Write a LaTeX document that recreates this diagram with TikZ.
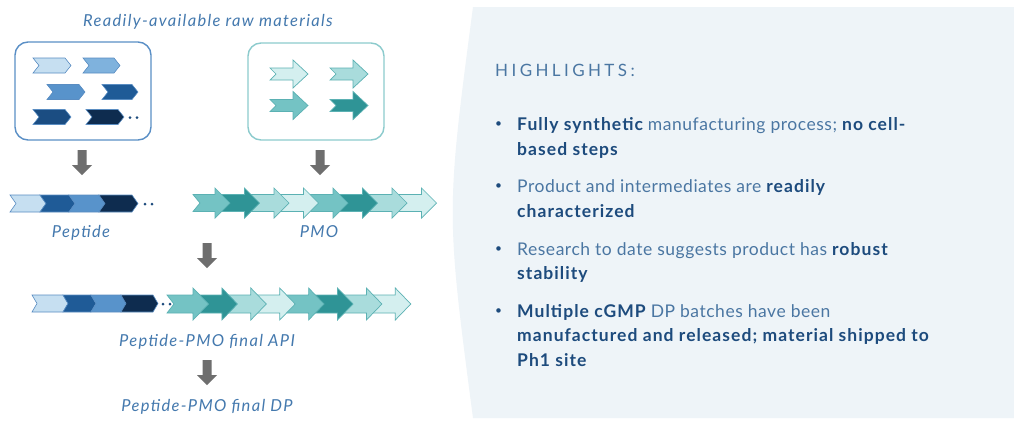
\documentclass[tikz,border=0pt]{standalone}
\usepackage{fontspec}
\setmainfont{Lato}
\definecolor{pep1}{HTML}{C6DFF1}
\definecolor{pep2}{HTML}{7FB2DD}
\definecolor{pep3}{HTML}{5893CB}
\definecolor{pep4}{HTML}{1F5B97}
\definecolor{pep5}{HTML}{1B4D82}
\definecolor{pep6}{HTML}{0E2C4F}
\definecolor{pepline}{HTML}{5A8DC2}
\definecolor{t1}{HTML}{D4EFEF}
\definecolor{t2}{HTML}{A9DCDC}
\definecolor{t3}{HTML}{74C3C4}
\definecolor{t4}{HTML}{2F9496}
\definecolor{tealline}{HTML}{5BB1B3}
\definecolor{boxblue}{HTML}{5A8FC6}
\definecolor{boxteal}{HTML}{8CCBCD}
\definecolor{garr}{HTML}{6E6E6E}
\definecolor{lbl}{HTML}{4479AE}
\definecolor{panel}{HTML}{EEF4F8}
\definecolor{txt}{HTML}{4A76A2}
\definecolor{txtb}{HTML}{1D4B7D}
\definecolor{dotc}{HTML}{1D4B7D}
\newcommand{\pchev}[4]{%
  \filldraw[fill=#4, draw=pepline, line width=0.6pt] (#1,{#3-7.5}) -- ({#2-6},{#3-7.5}) -- (#2,#3) -- ({#2-6},{#3+7.5}) -- (#1,{#3+7.5}) -- ({#1+6},#3) -- cycle;}
\newcommand{\pseg}[6]{%
  \filldraw[fill=#6, draw=pepline, line width=0.6pt] ({#1-#5},{#3-#4}) -- ({#2-#5},{#3-#4}) -- (#2,#3) -- ({#2-#5},{#3+#4}) -- ({#1-#5},{#3+#4}) -- (#1,#3) -- cycle;}
\newcommand{\parrow}[8]{%
  \filldraw[fill=#8, draw=tealline, line width=0.7pt] (#1,{#4-#6}) -- (#2,{#4-#6}) -- (#2,{#4-#5}) -- (#3,#4) -- (#2,{#4+#5}) -- (#2,{#4+#6}) -- (#1,{#4+#6}) -- ({#1+#7},#4) -- cycle;}
\newcommand{\garrow}[3]{%
  \fill[garr] ({#1-4.5},#2) -- ({#1+4.5},#2) -- ({#1+4.5},{#3-10}) -- ({#1+10},{#3-10}) -- (#1,#3) -- ({#1-10},{#3-10}) -- ({#1-4.5},{#3-10}) -- cycle;}
\newcommand{\hb}[1]{{\bfseries\addfontfeature{LetterSpace=6}\color{txtb}#1}}
\tikzset{
  lbltext/.style={text=lbl, font=\fontsize{16.5}{19}\selectfont\itshape\addfontfeature{LetterSpace=8}, inner sep=0pt, anchor=base},
  hltext/.style={text=txt, font=\fontsize{17.5}{20}\selectfont\addfontfeature{LetterSpace=3}, inner sep=0pt, anchor=base west},
  bul/.style={text=txtb, font=\fontsize{12}{14}\selectfont, inner sep=0pt, anchor=center},
  rawbox/.style={rounded corners=13pt, line width=1.4pt, fill=white},
}
\begin{document}
\begin{tikzpicture}[x=1pt,y=-1pt]
\useasboundingbox (0,0) rectangle (1014,421);
\fill[white] (0,0) rectangle (1014,421);
% right panel
\fill[panel] (473,7) .. controls (446,212.5) .. (473,418) -- (1014,418) -- (1014,7) -- cycle;
% title
\node[lbltext] (title) at (208,26.5) {Readily-available raw materials};
% raw boxes
\draw[rawbox, draw=boxblue] (15,42) rectangle (151,140);
\draw[rawbox, draw=boxteal] (248,43) rectangle (384,140);
% peptide raw chevrons
\pchev{33}{71}{65.5}{pep1}
\pchev{83}{120}{65.5}{pep2}
\pchev{47}{85}{92}{pep3}
\pchev{102}{138}{92}{pep4}
\pchev{33}{71}{117}{pep5}
\pchev{86}{124}{117}{pep6}
\fill[dotc] (130,117.5) circle (1.5) (137,117.5) circle (1.5);
% PMO raw arrows
\parrow{270}{293}{308}{74}{14}{6}{6}{t1}
\parrow{330}{353}{368}{74}{14}{6}{6}{t2}
\parrow{270}{293}{308}{105.5}{14}{6}{6}{t3}
\parrow{330}{353}{368}{105.5}{14}{6}{6}{t4}
% gray arrows
\garrow{82}{150}{175}
\garrow{320}{150}{175}
\garrow{207}{243}{268}
\garrow{207}{360}{385}
% peptide chain
\pseg{16}{46}{203.5}{8.5}{6}{pep1}
\pseg{46}{75}{203.5}{8.5}{6}{pep4}
\pseg{75}{105}{203.5}{8.5}{6}{pep3}
\pseg{105}{138}{203.5}{8.5}{6}{pep6}
\fill[dotc] (145,204) circle (1.5) (152,204) circle (1.5);
% PMO chain
\foreach \i/\c in {7/t1,6/t2,5/t4,4/t3,3/t1,2/t2,1/t4,0/t3} {
  \pgfmathsetmacro\bb{215+29.5*\i}
  \pgfmathsetmacro\tl{ifthenelse(\i==0,193,215+29.5*(\i-1))}
  \pgfmathsetmacro\tp{\bb+15}
  \parrow{\tl}{\bb}{\tp}{203}{15}{8.5}{7}{\c}
}
\node[lbltext] (pep) at (81,237) {Peptide};
\node[lbltext] (pmo) at (319,237) {PMO};
% combined chain
\foreach \i/\c in {7/t1,6/t2,5/t4,4/t3,3/t1,2/t2,1/t4,0/t3} {
  \pgfmathsetmacro\bb{193+28.9*\i}
  \pgfmathsetmacro\tl{ifthenelse(\i==0,167,193+28.9*(\i-1))}
  \pgfmathsetmacro\tp{\bb+15.5}
  \parrow{\tl}{\bb}{\tp}{304}{16}{9}{7}{\c}
}
\pseg{37}{68}{303.5}{8.5}{5}{pep1}
\pseg{68}{96}{303.5}{8.5}{5}{pep4}
\pseg{96}{126}{303.5}{8.5}{5}{pep3}
\pseg{126}{158}{303.5}{8.5}{5}{pep6}
\fill[dotc] (163,304) circle (1.5) (170,304) circle (1.5);
\node[lbltext] (api) at (207,346) {Peptide-PMO final API};
\node[lbltext] (dp) at (207,411.7) {Peptide-PMO final DP};
% highlights
\node[hltext, font=\fontsize{17}{20}\selectfont\addfontfeature{LetterSpace=20}] (hl) at (495,76) {HIGHLIGHTS:};
\node[bul] (b1) at (498.5,125) {•};
\node[hltext] (l11) at (517,130.7) {\hb{Fully synthetic} manufacturing process; \hb{no cell-}};
\node[hltext] (l12) at (517,155.2) {\hb{based steps}};
\node[bul] (b2) at (498.5,187) {•};
\node[hltext] (l21) at (517,192.7) {Product and intermediates are \hb{readily}};
\node[hltext] (l22) at (517,217.2) {\hb{characterized}};
\node[bul] (b3) at (498.5,249.3) {•};
\node[hltext] (l31) at (517,255) {Research to date suggests product has \hb{robust}};
\node[hltext] (l32) at (517,279.5) {\hb{stability}};
\node[bul] (b4) at (498.5,311.6) {•};
\node[hltext] (l41) at (517,317.3) {\hb{Multiple cGMP} DP batches have been};
\node[hltext] (l42) at (517,341.7) {\hb{manufactured and released; material shipped to}};
\node[hltext] (l43) at (517,366.1) {\hb{Ph1 site}};
\end{tikzpicture}
\end{document}
